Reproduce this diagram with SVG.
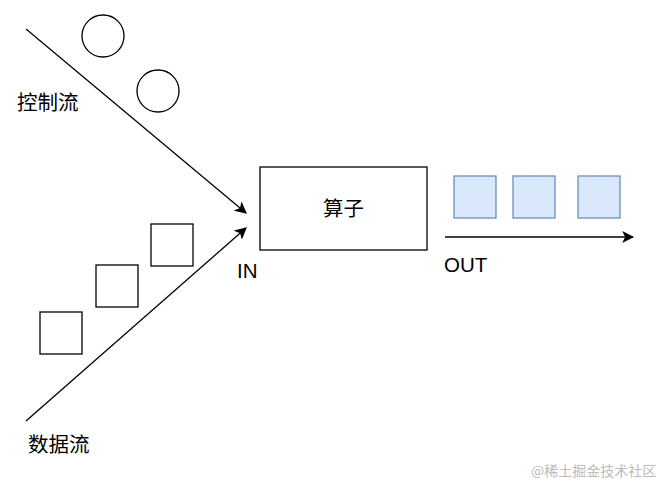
<svg xmlns="http://www.w3.org/2000/svg" width="659" height="486" viewBox="0 0 659 486">
<style>
.s{fill:#fff;stroke:#000;stroke-width:1.3}
.b{fill:#dae8fc;stroke:#6c8ebf;stroke-width:1.3}
.t{font-family:"Liberation Sans","Noto Sans CJK SC",sans-serif;font-size:20.5px;fill:#000}
.c{stroke:#000;stroke-width:1.3;fill:none}
.w{font-family:"Noto Sans CJK SC",sans-serif;font-size:14px;fill:#bbb}
</style>
<defs>
<marker id="ah" viewBox="0 0 10 10" refX="9" refY="5" markerWidth="12" markerHeight="12" markerUnits="userSpaceOnUse" orient="auto">
<path d="M0,0 L10,5 L0,10 L2.5,5 Z" fill="#000"/>
</marker>
</defs>
<rect width="659" height="486" fill="#fff"/>
<g id="connectors">
<line class="c" x1="26" y1="29" x2="246" y2="213" marker-end="url(#ah)"/>
<line class="c" x1="26" y1="421" x2="246" y2="228" marker-end="url(#ah)"/>
<line class="c" x1="445" y1="237" x2="633" y2="237" marker-end="url(#ah)"/>
</g>
<g id="circle1"><circle class="s" cx="103" cy="36" r="21"/></g>
<g id="circle2"><circle class="s" cx="158" cy="91" r="21"/></g>
<g id="label-control"><text class="t" x="17" y="110">控制流</text></g>
<g id="square1"><rect class="s" x="40" y="312" width="42" height="42"/></g>
<g id="square2"><rect class="s" x="96" y="265" width="42" height="42"/></g>
<g id="square3"><rect class="s" x="151" y="224" width="42" height="42"/></g>
<g id="label-data"><text class="t" x="28" y="452">数据流</text></g>
<g id="operator">
<rect class="s" x="260" y="167" width="167" height="83"/>
<text class="t" x="343.5" y="216" text-anchor="middle">算子</text>
</g>
<g id="label-in"><text class="t" x="237" y="278">IN</text></g>
<g id="out1"><rect class="b" x="454" y="176" width="42" height="42"/></g>
<g id="out2"><rect class="b" x="513" y="176" width="42" height="42"/></g>
<g id="out3"><rect class="b" x="578" y="176" width="42" height="42"/></g>
<g id="label-out"><text class="t" x="444" y="272">OUT</text></g>
<text class="w" x="531" y="476">@稀土掘金技术社区</text>
</svg>
